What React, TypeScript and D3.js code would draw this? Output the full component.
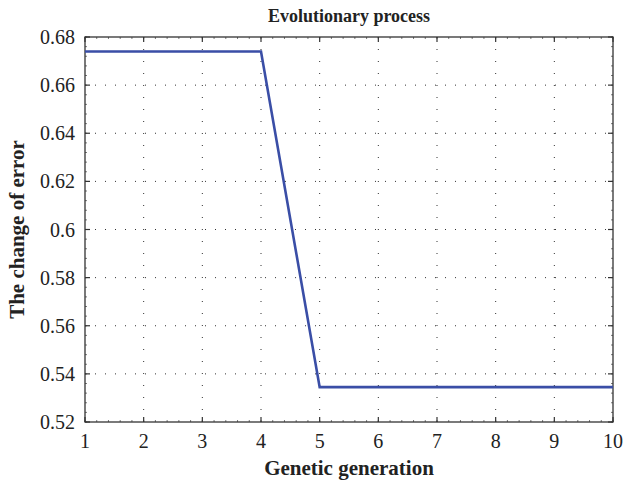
import React from 'react';
import * as d3 from 'd3';

const generations = [1, 2, 3, 4, 5, 6, 7, 8, 9, 10];
const errorValues = [0.674, 0.674, 0.674, 0.674, 0.5345, 0.5345, 0.5345, 0.5345, 0.5345, 0.5345];
const yTicks = [0.52, 0.54, 0.56, 0.58, 0.6, 0.62, 0.64, 0.66, 0.68];

const W = 623, H = 485;
const m = { left: 85, right: 10, top: 37, bottom: 63 };
const font = '"Liberation Serif", "DejaVu Serif", serif';

export default function App() {
  const x = d3.scaleLinear().domain([1, 10]).range([m.left, W - m.right]);
  const y = d3.scaleLinear().domain([0.52, 0.68]).range([H - m.bottom, m.top]);

  const line = d3.line<number>()
    .x((d, i) => x(generations[i]))
    .y(d => y(d));

  const x0 = x.range()[0], x1 = x.range()[1];
  const y0 = y.range()[0], y1 = y.range()[1];

  // minor ticks, 5 per major interval
  const xMinor = d3.range(1, 10.001, 0.2);
  const yMinor = d3.range(0.52, 0.68001, 0.004);

  return (
    <svg width={W} height={H} style={{ position: 'absolute', left: 0, top: 0 }}>
      <rect width={W} height={H} fill="#fff" />
      {/* grid */}
      {generations.slice(1, -1).map(g => (
        <line key={'gx' + g} x1={x(g)} x2={x(g)} y1={y0} y2={y1}
          stroke="#333" strokeWidth={1} strokeDasharray="1,11" />
      ))}
      {yTicks.slice(1, -1).map(t => (
        <line key={'gy' + t} x1={x0} x2={x1} y1={y(t)} y2={y(t)}
          stroke="#333" strokeWidth={1} strokeDasharray="1,9" />
      ))}
      {/* minor ticks */}
      {xMinor.map((g, i) => (
        <g key={'mx' + i} stroke="#555" strokeWidth={0.8}>
          <line x1={x(g)} x2={x(g)} y1={y0} y2={y0 - 2} />
          <line x1={x(g)} x2={x(g)} y1={y1} y2={y1 + 2} />
        </g>
      ))}
      {yMinor.map((t, i) => (
        <g key={'my' + i} stroke="#555" strokeWidth={0.8}>
          <line x1={x0} x2={x0 + 2} y1={y(t)} y2={y(t)} />
          <line x1={x1} x2={x1 - 2} y1={y(t)} y2={y(t)} />
        </g>
      ))}
      {/* major ticks */}
      {generations.map(g => (
        <g key={'tx' + g} stroke="#333" strokeWidth={1.2}>
          <line x1={x(g)} x2={x(g)} y1={y0} y2={y0 - 5} />
          <line x1={x(g)} x2={x(g)} y1={y1} y2={y1 + 5} />
        </g>
      ))}
      {yTicks.map(t => (
        <g key={'ty' + t} stroke="#333" strokeWidth={1.2}>
          <line x1={x0} x2={x0 + 5} y1={y(t)} y2={y(t)} />
          <line x1={x1} x2={x1 - 5} y1={y(t)} y2={y(t)} />
        </g>
      ))}
      <rect x={x0} y={y1} width={x1 - x0} height={y0 - y1} fill="none" stroke="#333" strokeWidth={1.3} />
      <path d={line(errorValues) || ''} fill="none" stroke="#3a4ea6" strokeWidth={2.6} />
      {/* labels */}
      {generations.map(g => (
        <text key={'lx' + g} x={x(g)} y={y0 + 26} textAnchor="middle"
          fontFamily={font} fontSize={20} fill="#222">{g}</text>
      ))}
      {yTicks.map(t => (
        <text key={'ly' + t} x={x0 - 10} y={y(t) + 7} textAnchor="end"
          fontFamily={font} fontSize={20} fill="#222">{d3.format('')(t)}</text>
      ))}
      <text x={(x0 + x1) / 2} y={22} textAnchor="middle" fontFamily={font}
        fontSize={18} fontWeight="bold" fill="#222">Evolutionary process</text>
      <text x={(x0 + x1) / 2} y={475} textAnchor="middle" fontFamily={font}
        fontSize={21} fontWeight="bold" fill="#222">Genetic generation</text>
      <text transform={`translate(24,${(y0 + y1) / 2}) rotate(-90)`} textAnchor="middle"
        fontFamily={font} fontSize={21} fontWeight="bold" fill="#222">The change of error</text>
    </svg>
  );
}
